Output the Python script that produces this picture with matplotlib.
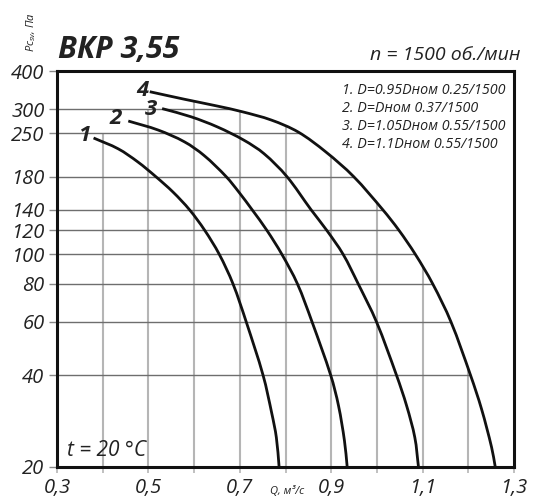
import numpy as np
import matplotlib
matplotlib.use("Agg")
import matplotlib.pyplot as plt
from matplotlib.ticker import NullLocator, FixedLocator
from matplotlib.path import Path
from matplotlib.patches import PathPatch

plt.rcParams['font.family'] = ['Open Sans', 'DejaVu Sans']
plt.rcParams['mathtext.fontset'] = 'custom'
plt.rcParams['mathtext.it'] = 'Open Sans:italic'
plt.rcParams['mathtext.rm'] = 'Open Sans'

# ---------------- data ----------------
q1 = [0.380, 0.434, 0.477, 0.516, 0.554, 0.590, 0.623, 0.655, 0.685, 0.714, 0.751, 0.770, 0.780, 0.786]
p1 = [241, 222, 201, 180, 160, 140, 120, 100, 80, 60, 40, 30, 25, 20]

q2 = [0.456, 0.521, 0.579, 0.622, 0.670, 0.698, 0.727, 0.759, 0.792, 0.826, 0.858, 0.899, 0.916, 0.929, 0.935]
p2 = [274, 256, 234, 211, 180, 160, 140, 120, 100, 80, 60, 40, 31.8, 24.4, 20]

q3 = [0.530, 0.593, 0.651, 0.709, 0.753, 0.803, 0.856, 0.890, 0.926, 0.959, 0.999, 1.043, 1.065, 1.083, 1.091]
p3 = [301, 283, 262, 237, 214, 180, 140, 120, 100, 80, 60, 40, 31.8, 25, 20]

q4 = [0.503, 0.579, 0.650, 0.705, 0.769, 0.828, 0.888, 0.949, 1.013, 1.048, 1.084, 1.122, 1.162, 1.205, 1.229, 1.251, 1.259]
p4 = [342, 323, 307, 294, 276, 252, 217, 180, 140, 120, 100, 80, 60, 40, 31, 23.2, 20]

curves_q = [q1, q2, q3, q4]
curves_p = [p1, p2, p3, p4]
curve_labels = ["1", "2", "3", "4"]
label_q = [0.360, 0.4285, 0.505, 0.486]
label_p = [245, 279, 298, 346]

legend_lines = ["1. D=0.95Dном 0.25/1500",
                "2. D=Dном 0.37/1500",
                "3. D=1.05Dном 0.55/1500",
                "4. D=1.1Dном 0.55/1500"]

x_ticks = [0.3, 0.5, 0.7, 0.9, 1.1, 1.3]
x_ticklabels = ["0,3", "0,5", "0,7", "0,9", "1,1", "1,3"]
x_grid = [0.4, 0.5, 0.6, 0.7, 0.8, 0.9, 1.0, 1.1, 1.2]
y_ticks = [20, 40, 60, 80, 100, 120, 140, 180, 250, 300, 400]
y_ticklabels = [str(v) for v in y_ticks]
y_grid = [40, 60, 80, 100, 120, 140, 180, 250, 300]

title = "ВКР 3,55"
speed = "n = 1500 об./мин"
temp = "t = 20 °C"
xlabel = "Q, м³/с"
ylabel = "Pc$_{sv}$, Па"

# ---------------- figure ----------------
W, H = 534, 503
fig = plt.figure(figsize=(W / 100, H / 100), dpi=100)
L, R, T, B = 57, 514, 71, 467
ax = fig.add_axes([L / W, 1 - B / H, (R - L) / W, (B - T) / H])
ax.set_yscale('log')

TXT = '#222222'

# grid clipped under the outermost curve
lq4 = np.log10(p4)
aq4 = np.array(q4)
def top_at(x):
    if x < aq4[0]:
        return 250 if x < 0.45 else 300
    return 10 ** np.interp(x, aq4, lq4)
for x in x_grid:
    ax.vlines(x, 20, top_at(x), color='#b5b5b5', lw=1.5, zorder=1)
for y in y_grid:
    xe = np.interp(np.log10(y), lq4[::-1], aq4[::-1])
    ax.hlines(y, 0.3, xe, color='#6e6e6e', lw=1.0, zorder=1.5)

# smooth curve through the read points (chord-length cubic Hermite, in x / log-y space)
def smooth_path(q, p):
    P = np.column_stack([np.asarray(q, float), np.log10(p)])
    S = P * np.array([457.0, 303.6])
    d = np.r_[0, np.cumsum(np.hypot(*np.diff(S, axis=0).T))]
    n = len(P)
    M = np.zeros_like(P)
    for i in range(n):
        a, b = max(i - 1, 0), min(i + 1, n - 1)
        M[i] = (P[b] - P[a]) / (d[b] - d[a])
    verts = [P[0]]
    codes = [Path.MOVETO]
    for i in range(n - 1):
        dt = d[i + 1] - d[i]
        verts += [P[i] + M[i] * dt / 3, P[i + 1] - M[i + 1] * dt / 3, P[i + 1]]
        codes += [Path.CURVE4] * 3
    V = np.array(verts)
    V[:, 1] = 10 ** V[:, 1]
    return Path(V, codes)

for q, p in zip(curves_q, curves_p):
    ax.add_patch(PathPatch(smooth_path(q, p), fill=False, edgecolor='#111111',
                           lw=2.0, capstyle='butt', zorder=3, transform=ax.transData))

ax.set_xlim(0.3, 1.3)
ax.set_ylim(20, 400)

for s, xq, yp in zip(curve_labels, label_q, label_p):
    ax.text(xq, yp, s, fontsize=16, fontweight='bold', fontstyle='italic',
            ha='center', va='center', color=TXT, zorder=4)

for sp in ax.spines.values():
    sp.set_linewidth(2.2)
    sp.set_color('#111111')

ax.yaxis.set_minor_locator(NullLocator())
ax.set_yticks(y_ticks, labels=y_ticklabels, fontstyle='italic', fontsize=14.5, color=TXT)
ax.set_xticks(x_ticks, labels=x_ticklabels, fontstyle='italic', fontsize=14.5, color=TXT)
ax.xaxis.set_minor_locator(FixedLocator(x_grid))
ax.tick_params(axis='y', which='major', length=6, width=1, color='#888888', pad=3)
ax.tick_params(axis='x', which='both', length=4, width=1.2, color='#b5b5b5', pad=4)

def ftext(px, py, s, **kw):
    fig.text(px / W, 1 - py / H, s, **kw)

ftext(58, 50, title, fontsize=22, fontweight='bold', fontstyle='italic', ha='left', va='center', color=TXT)
ftext(521, 55, speed, fontsize=14, fontstyle='italic', ha='right', va='center', color=TXT)
for i, line in enumerate(legend_lines):
    ftext(342, 91 + i * 18, line, fontsize=10.3, fontstyle='italic', ha='left', va='center', color=TXT)
ftext(107, 450, temp, fontsize=15, fontstyle='italic', ha='center', va='center', color=TXT)
ftext(287, 492, xlabel, fontsize=8, fontstyle='italic', ha='center', va='center', color=TXT)
ftext(31, 32, ylabel, fontsize=8, fontstyle='italic', ha='center', va='center', rotation=90, color=TXT)

fig.savefig("out.png", dpi=100)
